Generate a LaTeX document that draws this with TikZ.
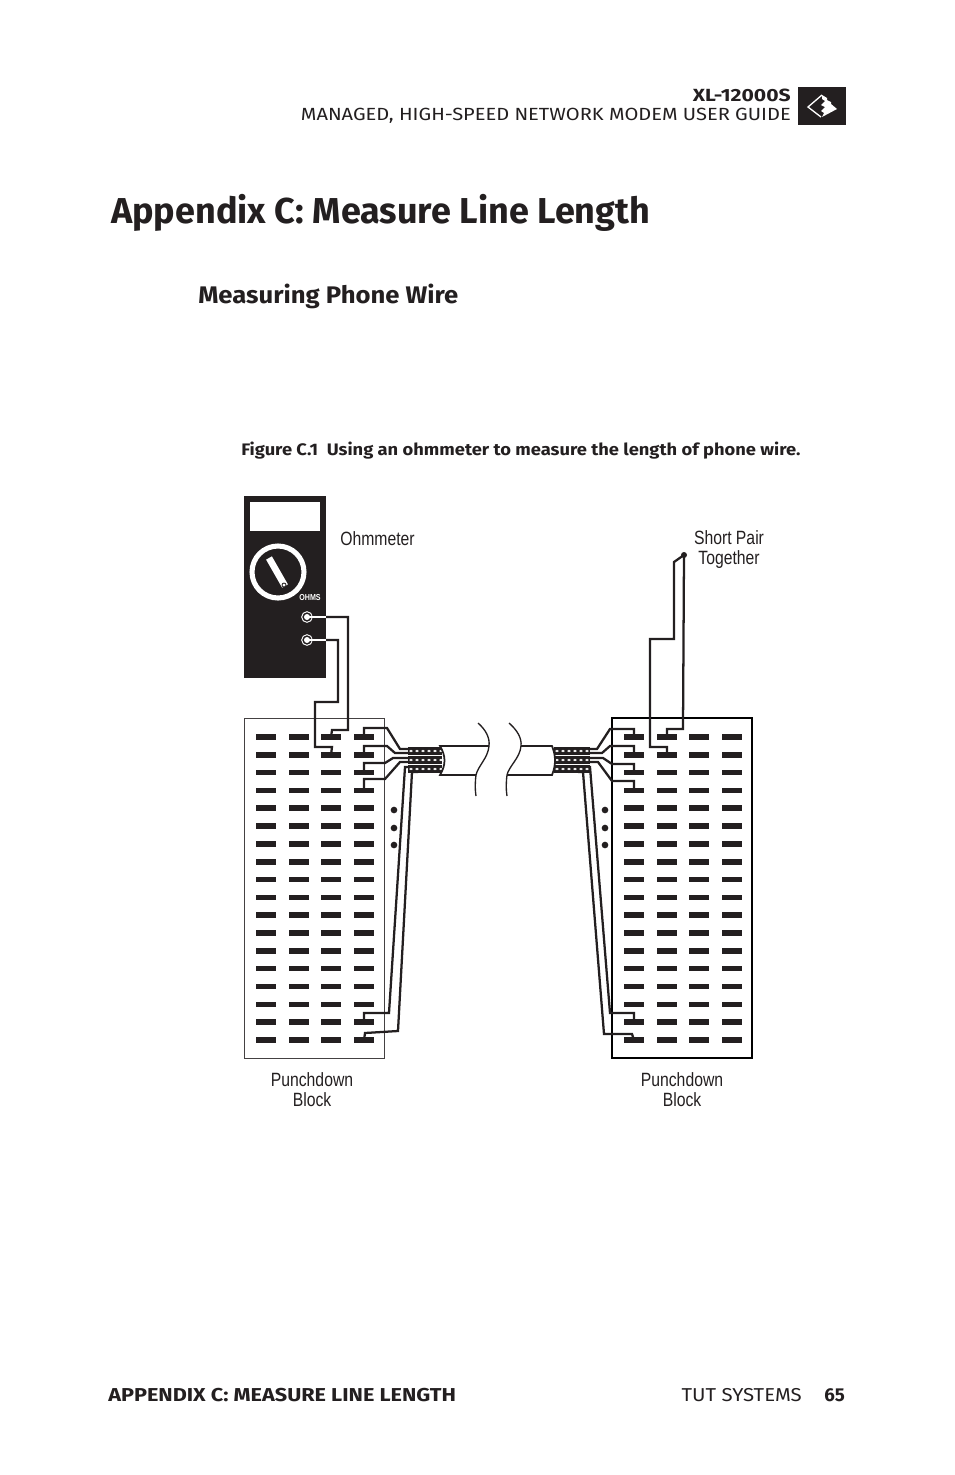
\documentclass[tikz,border=0pt]{standalone}
\usepackage{fontspec}
\setmainfont{Fira Sans}
\newfontfamily\narrowfont[FakeStretch=0.82]{Liberation Sans}
\newfontfamily\headfont[FakeStretch=1.14]{Fira Sans}
\newfontfamily\partfont[FakeStretch=1.2]{Fira Sans}
\newfontfamily\subfont[FakeStretch=1.07]{Fira Sans}
\newfontfamily\capfont[FakeStretch=1.10]{Fira Sans}
\newfontfamily\footfont[FakeStretch=1.16]{Fira Sans}
\newfontfamily\tutfont[FakeStretch=1.09]{Fira Sans}
\definecolor{inkblack}{HTML}{231F20}
\tikzset{
  pagetext/.style={inner sep=0pt,anchor=base west,text=inkblack},
  pageright/.style={inner sep=0pt,anchor=base east,text=inkblack},
  caplabel/.style={inner sep=0pt,align=center,text=inkblack,font=\narrowfont\fontsize{14.4}{15}\selectfont},
  termbar/.style={fill=inkblack,draw=none,minimum width=15pt,minimum height=4.2pt,inner sep=0pt},
  wire/.style={draw=inkblack,line width=1.7pt,line join=miter},
  thinwire/.style={draw=inkblack,line width=1pt},
  twistband/.style={draw=inkblack,line width=5.4pt},
  twisthole/.style={fill=white,draw=none},
  dotmark/.style={circle,fill=inkblack,minimum size=5pt,inner sep=0pt},
  jack/.style={circle,draw=white,fill=inkblack,line width=0.7pt,minimum size=8pt,inner sep=0pt}
}
\begin{document}
\begin{tikzpicture}[x=0.75pt,y=-0.75pt]
    \useasboundingbox (0,0) rectangle (954,1475);
    % page header and titles
    \node[pageright,font=\partfont\bfseries\fontsize{13.2}{15}\selectfont] (partno) at (791,101) {XL-12000S};
    \node[pageright,font=\headfont\fontsize{13.2}{15}\selectfont] (guide) at (791,120) {MANAGED, HIGH-SPEED NETWORK MODEM USER GUIDE};
    \fill[inkblack] (798,87) rectangle (846,125);
    \draw[white,line width=1pt] (822,95) -- (808,107) -- (821,117);
    \fill[white] (822,95) -- (827,98) -- (827,100) -- (831,102) -- (831,104) -- (837,109) -- (822,117) -- (824,113) -- (821,111) -- (825,107) -- (821,105) -- (825,101) -- (822,99) -- cycle;
    \node[pagetext,font=\bfseries\fontsize{27}{30}\selectfont] (title) at (111,223) {Appendix C: Measure Line Length};
    \node[pagetext,font=\subfont\bfseries\fontsize{18}{20}\selectfont] (subtitle) at (198,303) {Measuring Phone Wire};
    \node[pagetext,font=\capfont\bfseries\fontsize{12.5}{15}\selectfont] (figcap) at (241,455) {Figure C.1\ \ Using an ohmmeter to measure the length of phone wire.};
    \node[pagetext,font=\footfont\bfseries\fontsize{14}{16}\selectfont] (footl) at (108,1401) {APPENDIX C: MEASURE LINE LENGTH};
    \node[pageright,font=\tutfont\fontsize{14}{16}\selectfont] (footr) at (802,1401) {TUT SYSTEMS};
    \node[pageright,font=\bfseries\fontsize{14}{16}\selectfont] (pagenum) at (845,1401) {65};
    % ohmmeter
    \fill[inkblack] (244,496) rectangle (326,678);
    \fill[white] (250,502) rectangle (320,531);
    \draw[white,line width=3.8pt] (278,572) circle (26);
    \draw[white,line width=5pt] (269,558) -- (285,586);
    \draw[inkblack,fill=white,line width=0.6pt] (284,585) circle (2);
    \node[inner sep=0pt,text=white,font=\narrowfont\bfseries\fontsize{6.5}{7}\selectfont] (ohms) at (310,598) {OHMS};
    \node[jack] (jacka) at (307,617) {};
    \node[jack] (jackb) at (307,640) {};
    \node[caplabel,anchor=west] (ohmlabel) at (340,539) {Ohmmeter};
    \node[caplabel] (shortlabel) at (729,550) {Short Pair\\Together};
    \node[caplabel] (blocklabela) at (312,1090) {Punchdown\\Block};
    \node[caplabel] (blocklabelb) at (682,1090) {Punchdown\\Block};
    % punchdown blocks
    \draw[inkblack!85,line width=0.75pt] (244,718) rectangle (384,1058);
    \draw[black,line width=1.6pt] (612,718) rectangle (752,1058);
    \foreach \r in {1,...,18} {
        \foreach \c/\xa/\xb in {1/266/634,2/299/667,3/331/699,4/364/732} {
            \node[termbar] (la-\r-\c) at (\xa,{737+(\r-1)*17.82}) {};
            \node[termbar] (lb-\r-\c) at (\xb,{737+(\r-1)*17.82}) {};
        }
    }
    \foreach \y/\n in {810/1,828/2,845/3} {
        \node[dotmark] (dota\n) at (394,\y) {};
        \node[dotmark] (dotb\n) at (605,\y) {};
    }
    % meter leads
    \draw[wire] (jacka.center) -- (348,617) -- (348,730) -- (332,730) -- (la-1-3.center);
    \draw[wire] (jackb.center) -- (338,640) -- (338,702) -- (315,702) -- (315,747) -- (332,747) -- (la-2-3.center);
    \draw[white,line width=1.2pt] (jacka.center) -- (326,617);
    \draw[white,line width=1.2pt] (jackb.center) -- (326,640);
    \fill[white] (jacka) circle (3);
    \fill[white] (jackb) circle (3);
    % short pair
    \node[dotmark,minimum size=4.5pt] (shortdot) at (684,555) {};
    \draw[wire] (shortdot.center) -- (683,729) -- (667,729) -- (lb-1-2.center);
    \draw[wire] (shortdot.center) -- (674,562) -- (674,639) -- (650,639) -- (650,747) -- (667,747) -- (lb-2-2.center);
    % fan out, left block
    \draw[wire] (la-1-4.center) -- (364,728) -- (387,728) -- (400,749) -- (410,749);
    \draw[wire] (la-2-4.center) -- (364,746) -- (387,746) -- (395,753) -- (410,753);
    \draw[wire] (la-3-4.center) -- (364,763) -- (385,763) -- (393,758) -- (410,758);
    \draw[wire] (la-4-4.center) -- (364,779) -- (385,779) -- (400,762) -- (410,762);
    \draw[wire] (la-17-4.center) -- (364,1013) -- (389,1013) -- (405,767) -- (410,767);
    \draw[wire] (la-18-4.center) -- (365,1033) -- (398,1031) -- (412,772) -- (418,772);
    % fan out, right block
    \draw[wire] (lb-1-1.center) -- (634,729) -- (610,729) -- (597,749) -- (590,749);
    \draw[wire] (lb-2-1.center) -- (634,746) -- (610,746) -- (602,753) -- (590,753);
    \draw[wire] (lb-3-1.center) -- (634,764) -- (612,764) -- (603,758) -- (590,758);
    \draw[wire] (lb-4-1.center) -- (634,781) -- (612,781) -- (598,762) -- (590,762);
    \draw[wire] (lb-17-1.center) -- (634,1013) -- (610,1013) -- (590,767) -- (585,767);
    \draw[wire] (lb-18-1.center) -- (632,1034) -- (604,1034) -- (583,772) -- (578,772);
    % twisted pairs
    \foreach \y in {751,760,769} {
        \draw[twistband] (408,\y) -- (442,\y);
        \draw[twistband] (554,\y) -- (590,\y);
        \foreach \x in {411,417,...,441} {
            \fill[twisthole] (\x,\y) ellipse (1.9 and 1.2);
        }
        \foreach \x in {557,563,...,587} {
            \fill[twisthole] (\x,\y) ellipse (1.9 and 1.2);
        }
    }
    % cable ends and break
    \fill[white] (440,746) -- (489,746) .. controls (488,758) and (478,766) .. (476,775) -- (440,775) .. controls (446,765) and (446,756) .. cycle;
    \fill[white] (521,746) -- (552,746) .. controls (556,756) and (556,765) .. (552,775) -- (507,775) .. controls (509,766) and (520,758) .. cycle;
    \draw[wire,line width=1.3pt] (489,746) -- (440,746) .. controls (446,756) and (446,765) .. (440,775) -- (476,775);
    \draw[wire,line width=1.3pt] (521,746) -- (552,746) .. controls (556,756) and (556,765) .. (552,775) -- (507,775);
    \draw[thinwire] (478,723) .. controls (486,730) and (490,738) .. (489,746) .. controls (488,758) and (478,766) .. (476,775) .. controls (475,783) and (475,790) .. (476,796);
    \draw[thinwire] (509,723) .. controls (517,730) and (522,738) .. (521,746) .. controls (520,758) and (509,766) .. (507,775) .. controls (506,783) and (506,790) .. (507,796);
\end{tikzpicture}
\end{document}
